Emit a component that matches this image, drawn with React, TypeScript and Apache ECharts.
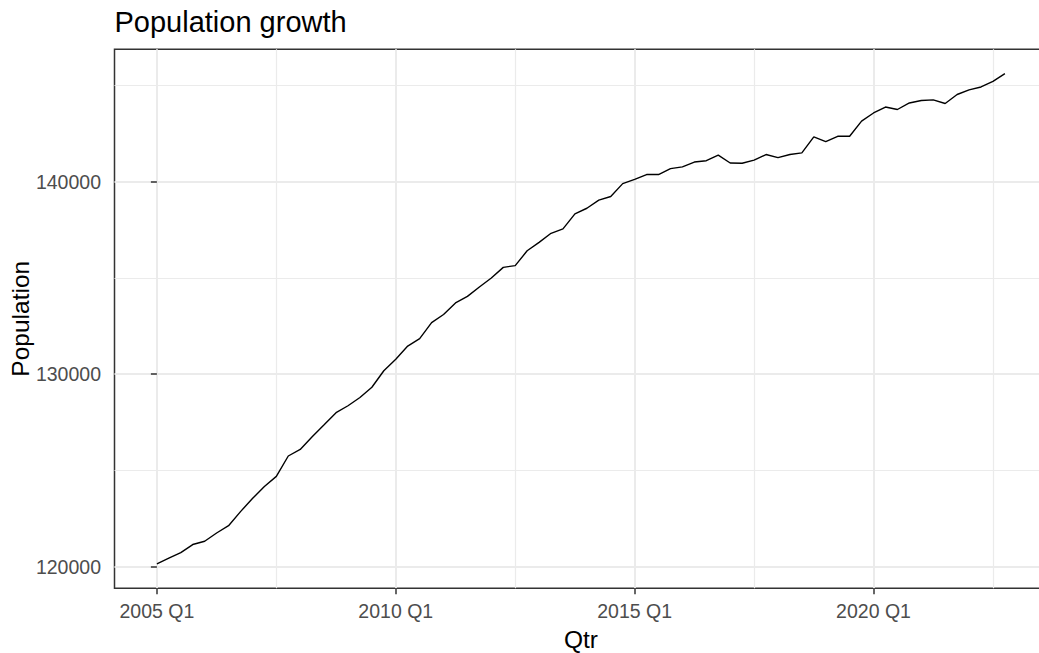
import React, { useEffect, useRef } from "react";
import * as echarts from "echarts";

const startYear = 2005;
const population: number[] = [
  120150, 120440, 120730, 121150, 121320, 121750, 122130, 122860,
  123540, 124170, 124690, 125750, 126090, 126750, 127370, 128000,
  128360, 128790, 129320, 130180, 130780, 131460, 131850, 132680,
  133100, 133700, 134040, 134530, 135000, 135550, 135640, 136410,
  136850, 137320, 137550, 138330, 138620, 139040, 139230, 139900,
  140120, 140370, 140370, 140680, 140770, 141020, 141090, 141380,
  140970, 140960, 141120, 141410, 141250, 141410, 141500, 142330,
  142080, 142360, 142360, 143150, 143570, 143880, 143750, 144090,
  144220, 144250, 144060, 144530, 144770, 144920, 145210, 145610,
];
const quarters: string[] = population.map(
  (_, i) => `${startYear + Math.floor(i / 4)} Q${(i % 4) + 1}`
);
const xMajorIdx: number[] = [0, 20, 40, 60];
const xMinorIdx: number[] = [10, 30, 50, 70];
const yMajor: number[] = [120000, 130000, 140000];
const yMinor: number[] = [125000, 135000, 145000];

const FONT = "'Liberation Sans', Arial, sans-serif";

export default function App() {
  const ref = useRef<HTMLDivElement>(null);
  useEffect(() => {
    if (!ref.current) return;
    const chart = echarts.init(ref.current, undefined, { renderer: "svg" });
    const n = population.length;
    const xPad = (n - 1) * 0.05;
    const xMin = -xPad;
    const xMax = n - 1 + xPad;
    const yLo = Math.min(...population);
    const yHi = Math.max(...population);
    const yPad = (yHi - yLo) * 0.05;
    const yMin = yLo - yPad;
    const yMax = yHi + yPad;

    chart.setOption({
      animation: false,
      backgroundColor: "#ffffff",
      textStyle: { fontFamily: FONT },
      title: {
        text: "Population growth",
        left: 114.5,
        top: 7.6,
        padding: 0,
        textStyle: { fontSize: 29, fontWeight: "normal", color: "#000000", fontFamily: FONT },
      },
      grid: {
        left: 114.5,
        top: 49.2,
        width: 932.8,
        height: 539.1,
        outerBoundsMode: "none",
        containLabel: false,
        show: true,
        borderColor: "#333333",
        borderWidth: 1.5,
        backgroundColor: "transparent",
      },
      xAxis: [
        {
          type: "value",
          min: xMin,
          max: xMax,
          position: "bottom",
          axisLine: { show: false },
          axisTick: {
            show: true,
            length: 6,
            customValues: xMajorIdx,
            lineStyle: { color: "#333333", width: 1.5 },
          },
          axisLabel: {
            customValues: xMajorIdx,
            formatter: (v: number) => quarters[Math.round(v)],
            color: "#4D4D4D",
            fontSize: 19.5,
            margin: 13,
            fontFamily: FONT,
          },
          splitLine: { show: true, lineStyle: { color: "#EBEBEB", width: 2 } },
          name: "Qtr",
          nameLocation: "middle",
          nameGap: 41.5,
          nameMoveOverlap: false,
          nameTextStyle: { fontSize: 24.5, lineHeight: 20, color: "#000000", fontFamily: FONT },
        },
        {
          type: "value",
          min: xMin,
          max: xMax,
          position: "top",
          axisLine: { show: false },
          axisTick: { show: false, customValues: xMinorIdx },
          axisLabel: { show: false, customValues: xMinorIdx },
          splitLine: { show: true, lineStyle: { color: "#EBEBEB", width: 1.2 } },
        },
      ],
      yAxis: [
        {
          type: "value",
          min: yMin,
          max: yMax,
          position: "left",
          axisLine: { show: false },
          axisTick: {
            show: true,
            length: 6,
            customValues: yMajor,
            lineStyle: { color: "#333333", width: 1.5 },
          },
          axisLabel: {
            customValues: yMajor,
            formatter: (v: number) => String(Math.round(v)),
            color: "#4D4D4D",
            fontSize: 19.5,
            margin: 13.5,
            fontFamily: FONT,
          },
          splitLine: { show: true, lineStyle: { color: "#EBEBEB", width: 2 } },
          name: "Population",
          nameLocation: "middle",
          nameRotate: 90,
          nameGap: 82,
          nameMoveOverlap: false,
          nameTextStyle: { fontSize: 24.5, color: "#000000", fontFamily: FONT },
        },
        {
          type: "value",
          min: yMin,
          max: yMax,
          position: "right",
          axisLine: { show: false },
          axisTick: { show: false, customValues: yMinor },
          axisLabel: { show: false, customValues: yMinor },
          splitLine: { show: true, lineStyle: { color: "#EBEBEB", width: 1.2 } },
        },
      ],
      series: [
        {
          type: "line",
          xAxisIndex: 0,
          yAxisIndex: 0,
          data: population.map((v, i) => [i, v]),
          showSymbol: false,
          symbol: "none",
          lineStyle: { color: "#000000", width: 1.4 },
          z: 5,
        },
      ],
    });
    return () => chart.dispose();
  }, []);

  return (
    <div
      ref={ref}
      style={{ position: "absolute", left: 0, top: 0, width: 1039, height: 653 }}
    />
  );
}
